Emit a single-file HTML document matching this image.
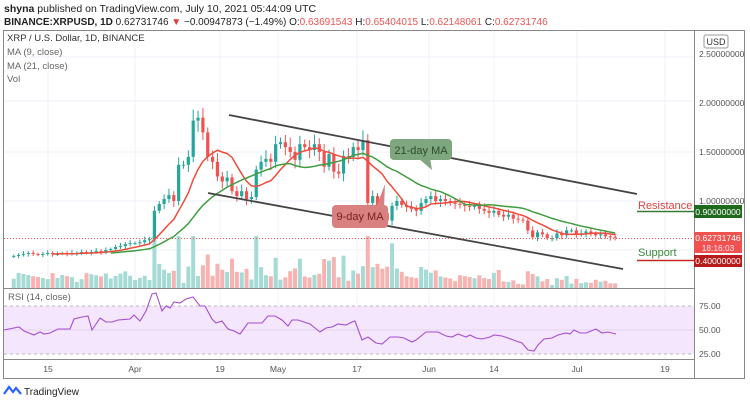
<!DOCTYPE html><html><head><meta charset="utf-8"><style>
body{margin:0;background:#fff;width:750px;height:404px;overflow:hidden;font-family:"Liberation Sans",sans-serif}
</style></head><body>
<svg id="s" width="750" height="404" xmlns="http://www.w3.org/2000/svg" font-family="Liberation Sans, sans-serif">
<text x="4" y="12" font-size="10.5" fill="#222"><tspan font-weight="bold">shyna</tspan> published on TradingView.com, July 10, 2021 05:44:09 UTC</text>
<text x="4" y="25" font-size="10" fill="#222"><tspan font-weight="bold">BINANCE:XRPUSD, 1D</tspan> 0.62731746 <tspan fill="#e53935">▼</tspan> −0.00947873 (−1.49%) O:<tspan fill="#ef5350">0.63691543</tspan> H:<tspan fill="#ef5350">0.65404015</tspan> L:<tspan fill="#ef5350">0.62148061</tspan> C:<tspan fill="#ef5350">0.62731746</tspan></text>
<rect x="3.5" y="30.5" width="741" height="348" fill="none" stroke="#888"/>
<g id="grid" stroke="#edf1f7" stroke-width="1"></g>
<rect x="4" y="306" width="690" height="48" fill="#f3e6fd"/>
<line x1="4" y1="306" x2="694" y2="306" stroke="#bbb" stroke-dasharray="3,3"/>
<line x1="4" y1="354" x2="694" y2="354" stroke="#bbb" stroke-dasharray="3,3"/>
<line x1="4" y1="330" x2="694" y2="330" stroke="#e0d4ec"/>
<g id="vol"></g><g id="cd"></g><g id="ma"></g>
<line x1="4" y1="238.5" x2="694" y2="238.5" stroke="#ef5350" stroke-dasharray="1,2"/>
<line x1="229" y1="115" x2="637" y2="194" stroke="#444" stroke-width="1.8"/>
<line x1="208" y1="193" x2="623" y2="269" stroke="#444" stroke-width="1.8"/>
<path d="M418 158 L432 170 L430 158Z" fill="#7fa77f"/>
<rect x="390" y="139" width="62" height="21" rx="4" fill="#7fa77f"/>
<text x="421" y="154" font-size="11" fill="#2e4b2e" text-anchor="middle">21-day MA</text>
<path d="M376 208 L385 184 L384 208Z" fill="#d98080"/>
<rect x="332" y="205" width="56" height="23" rx="4" fill="#d98080"/>
<text x="360" y="220" font-size="11" fill="#7a2020" text-anchor="middle">9-day MA</text>
<line x1="4" y1="288.5" x2="694" y2="288.5" stroke="#888"/>
<line x1="4" y1="359.5" x2="694" y2="359.5" stroke="#888"/>
<line x1="694.5" y1="31" x2="694.5" y2="378" stroke="#888"/>
<text x="7" y="41" font-size="9.5" fill="#333">XRP / U.S. Dollar, 1D, BINANCE</text>
<text x="7" y="55" font-size="9.5" fill="#666">MA (9, close)</text>
<text x="7" y="69" font-size="9.5" fill="#666">MA (21, close)</text>
<text x="7" y="82" font-size="9.5" fill="#666">Vol</text>
<text x="8" y="300" font-size="9.5" fill="#666">RSI (14, close)</text>
<rect x="704" y="35" width="24" height="13" rx="2" fill="#fff" stroke="#999"/>
<text x="716" y="45" font-size="9" fill="#333" text-anchor="middle">USD</text>
<g font-size="8.6" fill="#555" id="ax"></g>
<text x="638" y="209" font-size="11" fill="#d64545">Resistance</text>
<line x1="637" y1="211.5" x2="694" y2="211.5" stroke="#3a7a3a" stroke-width="1.5"/>
<rect x="694" y="205" width="48" height="13" fill="#1e6b1e"/>
<text x="718" y="215" font-size="8.6" fill="#fff" text-anchor="middle">0.90000000</text>
<rect x="694" y="232" width="48" height="21" fill="#ef5350"/>
<text x="718" y="241" font-size="8.6" fill="#fff" text-anchor="middle">0.62731746</text>
<text x="718" y="251" font-size="8.4" fill="#fde" text-anchor="middle">18:16:03</text>
<text x="638" y="256" font-size="11" fill="#3a8a3a">Support</text>
<line x1="637" y1="260.5" x2="694" y2="260.5" stroke="#c62828" stroke-width="1.5"/>
<rect x="694" y="255" width="48" height="12" fill="#b71c1c"/>
<text x="718" y="264" font-size="8.6" fill="#fff" text-anchor="middle">0.40000000</text>
<polyline fill="none" stroke="#a64dd1" stroke-width="1.1" points="4,330 19,327 24,331 34,335 40,332 44,334 50,333 58,329 70,329 74,319 82,317 88,316 92,330 100,318 106,322 112,322 118,320 130,319 134,315 140,321 146,311 152,294 156,293 162,311 166,306 170,308 174,302 180,303 186,299 193,297 200,306 205,306 212,319 216,323 222,321 228,329 234,331 240,334 248,323 256,323 262,323 268,316 275,316 282,320 288,326 292,320 298,320 310,324 320,332 326,328 332,327 338,324 346,325 352,322 355,321 362,340 368,337 376,343 382,344 390,337 398,337 404,338 412,342 416,340 426,332 438,332 446,336 452,337 458,334 466,337 470,335 476,338 482,339 490,337 494,335 502,336 508,338 516,341 522,343 528,350 534,351 538,345 544,339 552,338 558,335 566,333 570,334 574,330 580,333 586,333 596,329 602,333 608,332 616,334"/>
<g transform="translate(4,384)"><path d="M0 10 L5 3 L9 8 L12 4 L17 10" fill="none" stroke="#2962ff" stroke-width="2.2"/></g>
<text x="24" y="395" font-size="10" fill="#222">TradingView</text>
</svg>
<script>
const NS="http://www.w3.org/2000/svg";
function el(p,t,a){const e=document.createElementNS(NS,t);for(const k in a)e.setAttribute(k,a[k]);document.getElementById(p).appendChild(e);return e;}
const X0=135,DX=4.85;
const y=p=>299-98*p;
[57,101,152,201,250].forEach(v=>el('grid','line',{x1:4,x2:694,y1:v,y2:v}));
[48,135,220,278,357,429,494,577,665].forEach(v=>el('grid','line',{x1:v,x2:v,y1:31,y2:359}));
[[2.5,"2.50000000"],[2,"2.00000000"],[1.5,"1.50000000"],[1,"1.00000000"]].forEach(a=>{const t=el('ax','text',{x:699,y:y(a[0])+3});t.textContent=a[1];});
[[306,"75.00"],[330,"50.00"],[354,"25.00"]].forEach(a=>{const t=el('ax','text',{x:699,y:a[0]+3});t.textContent=a[1];});
[[48,"15"],[135,"Apr"],[220,"19"],[278,"May"],[357,"17"],[429,"Jun"],[494,"14"],[577,"Jul"],[665,"19"]].forEach(a=>{const t=el('ax','text',{x:a[0],y:372,'text-anchor':'middle'});t.textContent=a[1];});
const c=[0.44,0.45,0.46,0.47,0.46,0.45,0.46,0.47,0.46,0.46,0.47,0.46,0.47,0.47,0.48,0.47,0.48,0.49,0.48,0.50,0.51,0.53,0.54,0.56,0.57,
0.57,0.58,0.60,0.61,0.90,0.97,1.02,1.06,1.00,1.37,1.37,1.45,1.82,1.85,1.70,1.45,1.40,1.25,1.20,1.24,1.10,1.05,1.10,1.02,1.04,1.32,1.40,1.43,1.40,1.58,
1.60,1.55,1.50,1.42,1.58,1.55,1.52,1.58,1.50,1.35,1.48,1.30,1.28,1.46,1.45,1.55,1.52,1.62,0.98,1.05,0.95,0.88,0.80,0.95,1.00,0.96,0.94,0.92,0.90,0.98,
1.02,1.05,1.00,1.02,1.00,0.98,0.97,0.96,0.95,0.94,0.95,0.92,0.90,0.88,0.90,0.86,0.84,0.86,0.82,0.81,0.80,0.70,0.63,0.68,0.66,0.62,0.62,0.67,0.65,0.70,0.70,
0.66,0.67,0.69,0.67,0.65,0.66,0.64,0.635,0.627];
let ma9=[],ma21=[];
c.forEach((cl,i)=>{
 const op=i?c[i-1]:0.43;const x=X0+(i-25)*DX;
 const up=cl>=op;const col=up?'#26a69a':'#ef5350';
 const hi=Math.max(op,cl)*(1+0.03+0.04*((i*7)%5)/5),lo=Math.min(op,cl)*(1-0.03-0.04*((i*3)%5)/5);
 el('cd','line',{x1:x,x2:x,y1:y(hi),y2:y(lo),stroke:col,'stroke-width':1});
 const t=Math.min(y(op),y(cl)),h=Math.max(1,Math.abs(y(op)-y(cl)));
 el('cd','rect',{x:x-1.6,y:t,width:3.2,height:h,fill:col});
 const ch=Math.abs(cl-op)/op;let vh=Math.min(52,5+ch*180+((i*13)%7));
 if(i>100)vh*=0.5;
 el('vol','rect',{x:x-2,y:288-vh,width:4,height:vh,fill:up?'#a6dbd5':'#f7b3b1'});
 if(i>=8)ma9.push([x,c.slice(i-8,i+1).reduce((a,b)=>a+b)/9]);
 if(i>=20)ma21.push([x,c.slice(i-20,i+1).reduce((a,b)=>a+b)/21]);
});
el('ma','polyline',{points:ma9.map(p=>p[0]+','+y(p[1])).join(' '),fill:'none',stroke:'#f04a3a','stroke-width':1.5});
el('ma','polyline',{points:ma21.map(p=>p[0]+','+y(p[1])).join(' '),fill:'none',stroke:'#3f9c3f','stroke-width':1.5});
</script>
</body></html>
